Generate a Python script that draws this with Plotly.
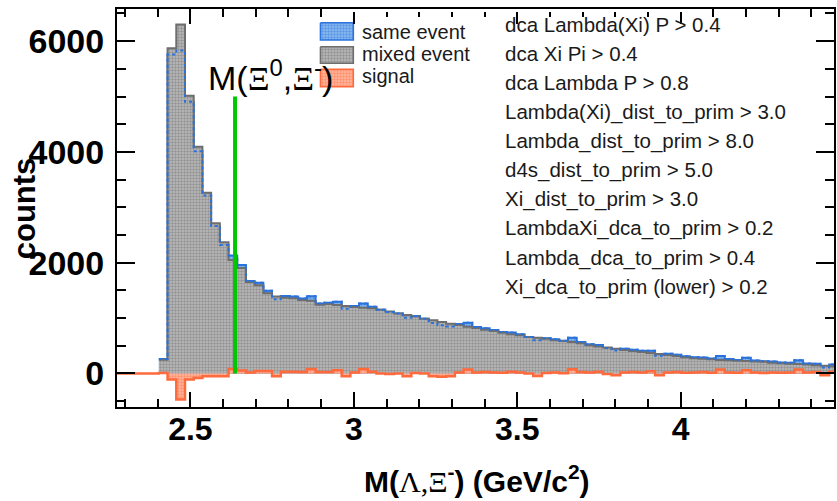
import plotly.graph_objects as go

# ---- histogram binning (GeV/c^2) ----
BIN_START = 2.4036
BIN_WIDTH = 0.02663

# counts per bin
mixed_event = [250, 5870, 6300, 5015, 4094, 3264, 2711, 2368, 2049, 1905,
               1650, 1595, 1447, 1390, 1368, 1360, 1327, 1314, 1240, 1254,
               1236, 1220, 1200, 1185, 1177, 1150, 1120, 1085, 1056, 1030,
               990, 960, 930, 900, 875, 845, 820, 790, 765, 735,
               710, 690, 660, 645, 625, 600, 585, 570, 545, 510,
               485, 470, 445, 425, 405, 390, 370, 350, 335, 315,
               295, 275, 265, 255, 245, 240, 230, 225, 215, 210,
               195, 185, 175, 170, 160, 150, 140, 130]

same_event = [260, 5760, 5830, 4905, 4014, 3214, 2661, 2318, 2129, 1960,
              1670, 1640, 1492, 1340, 1398, 1390, 1352, 1394, 1265, 1279,
              1296, 1170, 1220, 1265, 1207, 1150, 1110, 1085, 1006, 1040,
              990, 910, 870, 850, 895, 915, 840, 815, 785, 750,
              740, 710, 660, 600, 635, 620, 590, 645, 570, 530,
              515, 460, 415, 445, 430, 410, 410, 320, 355, 340,
              310, 295, 290, 270, 315, 260, 245, 285, 235, 220,
              215, 200, 195, 240, 180, 175, 110, 160]

signal = [10, -110, -470, -110, -80, -50, -50, -50, 80, 55,
          20, 45, 45, -50, 30, 30, 25, 80, 25, 25,
          60, -50, 20, 80, 30, 0, -10, 0, -50, 10,
          0, -50, -60, -50, 20, 70, 20, 25, 20, 15,
          30, 20, 0, -45, 10, 20, 5, 75, 25, 20,
          30, -10, -30, 20, 25, 20, 40, -30, 20, 25,
          15, 20, 25, 15, 70, 20, 15, 60, 20, 10,
          20, 15, 20, 70, 20, 25, -30, 30]

legend_labels = ["same event", "mixed event", "signal"]

cuts = ["dca Lambda(Xi) P &gt; 0.4",
        "dca Xi Pi &gt; 0.4",
        "dca Lambda P &gt; 0.8",
        "Lambda(Xi)_dist_to_prim &gt; 3.0",
        "Lambda_dist_to_prim &gt; 8.0",
        "d4s_dist_to_prim &gt; 5.0",
        "Xi_dist_to_prim &gt; 3.0",
        "LambdaXi_dca_to_prim &gt; 0.2",
        "Lambda_dca_to_prim &gt; 0.4",
        "Xi_dca_to_prim (lower) &gt; 0.2"]

# Xi0 + Xi- threshold mass
M_XI0 = 1.3149
M_XIM = 1.3217
THRESHOLD_LINE_TOP = 5000

X_RANGE = [2.2755, 4.4689]
Y_RANGE = [-605, 6580]

# ---- styles ----
W, H = 837, 501
ML, MR, MT, MB = 117, 1, 9, 94
PW, PH = W - ML - MR, H - MT - MB
SANS = "Liberation Sans, Arial, Helvetica, sans-serif"

BLUE = "#2a72dc"
GRAY = "#6e6e6e"
ORANGE = "#ff6a3d"
GREEN = "#00c800"

BLUE_BG = "#8dbcf0"
GRAY_BG = "#bcbcbc"
ORANGE_BG = "#ffb89f"

pat_blue = dict(shape=".", fgcolor=BLUE, bgcolor=BLUE_BG, size=3, solidity=0.5)
pat_gray = dict(shape=".", fgcolor="#6a6a6a", bgcolor=GRAY_BG, size=3, solidity=0.5)
pat_orange = dict(shape=".", fgcolor=ORANGE, bgcolor=ORANGE_BG, size=3, solidity=0.5)


def step_xy(values):
    edges = [BIN_START + i * BIN_WIDTH for i in range(len(values) + 1)]
    return edges, list(values) + [values[-1]]


def px_paper(px, py):
    """pixel position on the page -> paper coordinates of the plot area"""
    return (px - ML) / PW, (H - MB - py) / PH


fig = go.Figure()

# same-event spectrum
xs, ys = step_xy(same_event)
fig.add_trace(go.Scatter(x=xs, y=ys, mode="lines", line=dict(shape="hv", color=BLUE, width=2),
                         fill="tozeroy", fillcolor=BLUE_BG, fillpattern=pat_blue,
                         hoverinfo="skip", showlegend=False))

# mixed-event spectrum (normalised)
xm, ym = step_xy(mixed_event)
fig.add_trace(go.Scatter(x=xm, y=ym, mode="lines", line=dict(shape="hv", color=GRAY, width=2),
                         fill="tozeroy", fillcolor=GRAY_BG, fillpattern=pat_gray,
                         hoverinfo="skip", showlegend=False))

# same-event outline seen through the mixed-event hatch
fig.add_trace(go.Scatter(x=xs, y=ys, mode="lines",
                         line=dict(shape="hv", color=BLUE, width=2, dash="dot"),
                         hoverinfo="skip", showlegend=False))

# signal = same - mixed, drawn from the empty region on the left
xg, yg = step_xy(signal)
xg = [X_RANGE[0] - 0.05] + xg
yg = [0] + yg
fig.add_trace(go.Scatter(x=xg, y=yg, mode="lines", line=dict(shape="hv", color=ORANGE, width=2.5),
                         fill="tozeroy", fillcolor=ORANGE_BG, fillpattern=pat_orange,
                         hoverinfo="skip", showlegend=False))

# threshold marker
m_thr = M_XI0 + M_XIM
fig.add_trace(go.Scatter(x=[m_thr, m_thr], y=[0, THRESHOLD_LINE_TOP], mode="lines",
                         line=dict(color=GREEN, width=4), hoverinfo="skip", showlegend=False))

# ---- legend swatches on a pixel-space overlay ----
swatch_rows = [(22.7, 40.0, BLUE, pat_blue, BLUE_BG),
               (46.7, 63.3, GRAY, pat_gray, GRAY_BG),
               (69.3, 86.7, ORANGE, pat_orange, ORANGE_BG)]
for y0, y1, col, pat, bg in swatch_rows:
    fig.add_trace(go.Scatter(x=[321, 354, 354, 321, 321], y=[y0, y0, y1, y1, y0],
                             xaxis="x2", yaxis="y2", mode="lines",
                             line=dict(color=col, width=1.5), fill="toself",
                             fillcolor=bg, fillpattern=pat,
                             hoverinfo="skip", showlegend=False))

annotations = []
for label, yc in zip(legend_labels, [32, 54, 76]):
    annotations.append(dict(x=361, y=yc, xref="x2", yref="y2", text=label, showarrow=False,
                            xanchor="left", yanchor="middle",
                            font=dict(family=SANS, size=20, color="#1a1a1a")))

for i, txt in enumerate(cuts):
    annotations.append(dict(x=504, y=24 + 29.2 * i, xref="x2", yref="y2", text=txt,
                            showarrow=False, xanchor="left", yanchor="middle",
                            font=dict(family=SANS, size=20.5, color="#1a1a1a")))

# threshold label
annotations.append(dict(x=206, y=75, xref="x2", yref="y2",
                        text="M(<span style='font-family:Liberation Serif'>\u039e</span><sup>0</sup>,"
                             "<span style='font-family:Liberation Serif'>\u039e</span><sup>-</sup>)",
                        showarrow=False, xanchor="left", yanchor="middle",
                        font=dict(family=SANS, size=34, color="black")))

# axis titles (placed in paper space, outside the plot area)
tx, ty = px_paper(478, 479)
annotations.append(dict(x=tx, y=ty, xref="paper", yref="paper",
                        text="M(<span style='font-family:Liberation Serif;font-weight:normal'>\u039b,\u039e</span>"
                             "<sup>-</sup>) (GeV/c<sup>2</sup>)",
                        showarrow=False, xanchor="center", yanchor="middle",
                        font=dict(family=SANS, size=30, color="black", weight="bold")))
cx, cy = px_paper(24, 208)
annotations.append(dict(x=cx, y=cy, xref="paper", yref="paper", text="counts", textangle=-90,
                        showarrow=False, xanchor="center", yanchor="middle",
                        font=dict(family=SANS, size=31, color="black", weight="bold")))

axis_common = dict(showline=True, linecolor="black", linewidth=2, mirror="ticks",
                   ticks="inside", tickcolor="black", tickwidth=1.5,
                   showgrid=False, zeroline=False)

fig.update_layout(
    width=W, height=H,
    margin=dict(l=ML, r=MR, t=MT, b=MB),
    paper_bgcolor="white", plot_bgcolor="white",
    showlegend=False,
    xaxis=dict(range=X_RANGE, tick0=0, dtick=0.5, ticklen=15,
               minor=dict(ticks="inside", dtick=0.1, ticklen=8, tickcolor="black", tickwidth=1.5),
               ticklabelstandoff=-7,
               tickfont=dict(family=SANS, size=32, color="black", weight="bold"),
               **axis_common),
    yaxis=dict(range=Y_RANGE, tick0=0, dtick=2000, ticklen=18, tickformat="d",
               minor=dict(ticks="inside", dtick=500, ticklen=9, tickcolor="black", tickwidth=1.5),
               ticklabelstandoff=4,
               tickfont=dict(family=SANS, size=34, color="black", weight="bold"),
               **axis_common),
    xaxis2=dict(range=[ML, W - MR], overlaying="x", visible=False, fixedrange=True),
    yaxis2=dict(range=[H - MB, MT], overlaying="y", visible=False, fixedrange=True),
    annotations=annotations,
    shapes=[dict(type="rect", xref="x2", yref="y2", x0=333, x1=700, y0=-2, y1=12,
                 fillcolor="white", line=dict(width=0), layer="above")],
)

fig.write_html("out.html")
